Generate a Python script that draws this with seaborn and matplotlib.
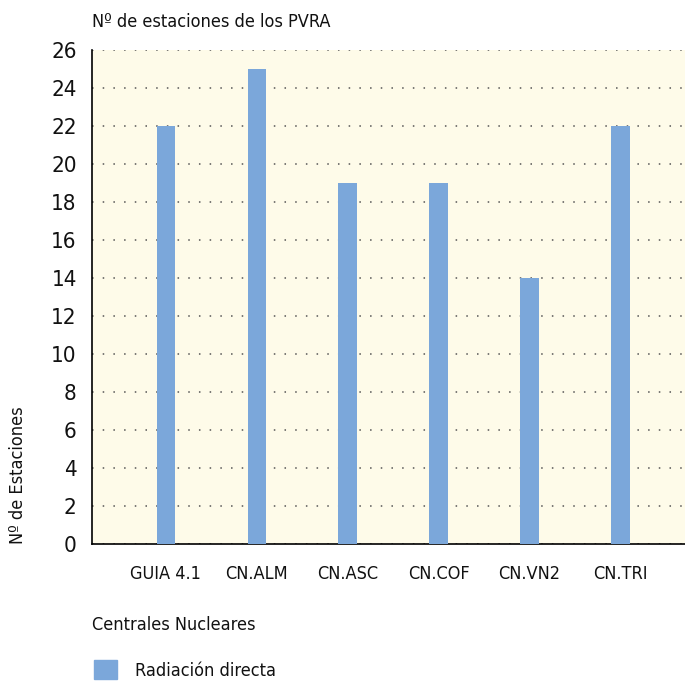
"""Número de estaciones de los PVRA por central nuclear."""
import matplotlib
matplotlib.use("Agg")
import matplotlib.pyplot as plt
import matplotlib.patches as mpatches
import pandas as pd
import seaborn as sns

centrales = ["GUIA 4.1", "CN.ALM", "CN.ASC", "CN.COF", "CN.VN2", "CN.TRI"]
estaciones = [22, 25, 19, 19, 14, 22]
serie = "Radiación directa"

BAR = "#7ba7da"
BG = "#fefbe9"

sns.set_style("white")
plt.rcParams["font.family"] = ["DejaVu Sans"]
plt.rcParams["font.stretch"] = "condensed"
plt.rcParams["text.color"] = "#111111"
plt.rcParams["xtick.color"] = "#111111"
plt.rcParams["ytick.color"] = "#111111"

df = pd.DataFrame({"central": centrales, "n": estaciones})

fig = plt.figure(figsize=(6.85, 6.82), dpi=100)
ax = fig.add_axes([92 / 685, 138 / 682, 1 - 92 / 685, (544 - 50) / 682])
ax.set_facecolor(BG)

sns.barplot(data=df, x="central", y="n", color=BAR, width=0.2, saturation=1,
            linewidth=0, ax=ax, zorder=3)

ax.set_ylim(0, 26)
ax.set_yticks(range(0, 27, 2))
ax.set_xlim(-0.81, 5.71)
ax.set_xticks([-0.81, 0.5, 1.5, 2.5, 3.5, 4.5])
ax.set_xticklabels([])
ax.set_xticks(range(len(centrales)), minor=True)
ax.set_xticklabels(centrales, minor=True)
ax.tick_params(axis="x", which="minor", length=0, pad=15, labelsize=13)
ax.tick_params(axis="x", which="major", length=7, width=1, color="#444444")
ax.tick_params(axis="y", length=7, width=1, color="#444444", labelsize=16, pad=4)

ax.grid(axis="y", linestyle=(0, (1, 6)), color="#555555", linewidth=1.1, zorder=1)
ax.grid(axis="x", visible=False)
for s in ["top", "right"]:
    ax.spines[s].set_visible(False)
for s in ["left", "bottom"]:
    ax.spines[s].set_color("black")
    ax.spines[s].set_linewidth(1.2)
ax.set_xlabel("")
ax.set_ylabel("")

fig.text(92 / 685, 1 - 22 / 682, "Nº de estaciones de los PVRA", fontsize=13,
         ha="left", va="center")
fig.text(18 / 685, 138 / 682, "Nº de Estaciones", fontsize=13, rotation=90,
         ha="center", va="bottom")
fig.text(92 / 685, 1 - 625 / 682, "Centrales Nucleares", fontsize=13,
         ha="left", va="center")

leg = fig.legend(handles=[mpatches.Patch(color=BAR, label=serie)],
                 loc="center left", bbox_to_anchor=(94 / 685, 1 - 670 / 682),
                 frameon=False, fontsize=13, handlelength=1.27, handleheight=1.27,
                 handletextpad=1.0, borderaxespad=0, borderpad=0)

fig.savefig("out.png", dpi=100)
